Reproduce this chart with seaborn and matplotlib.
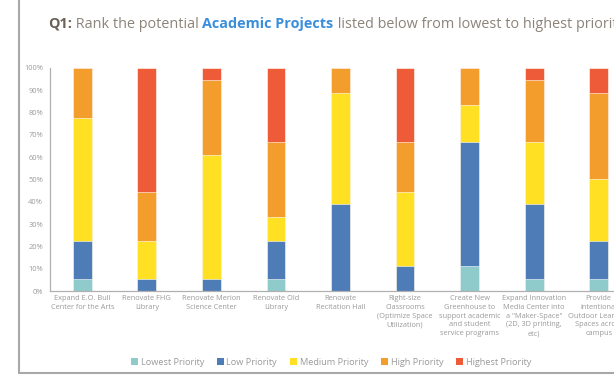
import numpy as np
import pandas as pd
import seaborn as sns
import matplotlib
matplotlib.use("Agg")
import matplotlib.pyplot as plt
from matplotlib.lines import Line2D
from matplotlib.patches import Patch

categories = [
    "Expand E.O. Bull\nCenter for the Arts",
    "Renovate FHG\nLibrary",
    "Renovate Merion\nScience Center",
    "Renovate Old\nLibrary",
    "Renovate\nRecitation Hall",
    "Right-size\nClassrooms\n(Optimize Space\nUtilization)",
    "Create New\nGreenhouse to\nsupport academic\nand student\nservice programs",
    "Expand Innovation\nMedia Center into\na \"Maker-Space\"\n(2D, 3D printing,\netc)",
    "Provide\nintentional\nOutdoor Learning\nSpaces across\ncampus",
]
series_names = ["Lowest Priority", "Low Priority", "Medium Priority", "High Priority", "Highest Priority"]
lowest = [5.56, 0.0, 0.0, 5.56, 0.0, 0.0, 11.11, 5.56, 5.56]
low = [16.67, 5.56, 5.56, 16.67, 38.89, 11.11, 55.56, 33.33, 16.67]
medium = [55.56, 16.67, 55.56, 11.11, 50.0, 33.33, 16.67, 27.78, 27.78]
high = [22.22, 22.22, 33.33, 33.33, 11.11, 22.22, 16.67, 27.78, 38.89]
highest = [0.0, 55.56, 5.56, 33.33, 0.0, 33.33, 0.0, 5.56, 11.11]
colors = ["#8ecbca", "#4e7cb6", "#ffe022", "#f29d2c", "#ee5b38"]
yticks = [0, 10, 20, 30, 40, 50, 60, 70, 80, 90, 100]
ytick_labels = ["0%", "10%", "20%", "30%", "40%", "50%", "60%", "70%", "80%", "90%", "100%"]

series = [lowest, low, medium, high, highest]
cum = np.cumsum(np.array(series), axis=0)

W, H = 614, 375
fig = plt.figure(figsize=(W / 100, H / 100), dpi=100)
sns.set_style("white")
plt.rcParams["font.family"] = ["Open Sans", "DejaVu Sans"]

ax = fig.add_axes([50 / W, 84 / H, 581 / W, 223 / H])
for i in range(len(series) - 1, -1, -1):
    df = pd.DataFrame({"cat": categories, "val": cum[i]})
    sns.barplot(data=df, x="cat", y="val", color=colors[i], width=0.29,
                saturation=1, ax=ax, edgecolor="white", linewidth=0.4)

ax.set_xlim(-0.5, len(categories) - 0.5)
ax.set_ylim(0, 100)
ax.set_yticks(yticks)
ax.set_yticklabels(ytick_labels)
ax.set_xlabel("")
ax.set_ylabel("")
tcol = "#9a9a9a"
ax.tick_params(axis="y", labelsize=5.4, colors="#a0a0a0", labelcolor=tcol, length=3, width=0.6, pad=2)
ax.tick_params(axis="x", which="major", labelsize=5.3, labelcolor=tcol, length=0, pad=3)
ax.set_xticks(np.arange(-0.5, len(categories)), minor=True)
ax.tick_params(axis="x", which="minor", length=3, width=0.8, colors="#a0a0a0")
for lab in ax.get_xticklabels():
    lab.set_linespacing(1.35)
for s in ["top", "right"]:
    ax.spines[s].set_visible(False)
for s in ["left", "bottom"]:
    ax.spines[s].set_color("#b0b0b0")
    ax.spines[s].set_linewidth(0.9)

# legend
handles = [Patch(facecolor=c, edgecolor="none") for c in colors]
leg = fig.legend(handles, series_names, loc="center", bbox_to_anchor=(331 / W, 1 - 362.5 / H),
                 ncol=5, frameon=False, fontsize=6.6, handlelength=0.75, handleheight=0.75,
                 handletextpad=0.3, columnspacing=1.4, labelcolor=tcol)

# frame lines
fig.add_artist(Line2D([19 / W, 19 / W], [1 - 373 / H, 1], transform=fig.transFigure,
                      color="#a8a8a8", lw=1.5))
fig.add_artist(Line2D([19 / W, 1], [1 - 373 / H, 1 - 373 / H], transform=fig.transFigure,
                      color="#a8a8a8", lw=1.5))

# title in pieces
pieces = [("Q1:", "bold", "#6b6157"), (" Rank the potential ", "normal", "#8c837a"),
          ("Academic Projects", "bold", "#3b8edb"),
          (" listed below from lowest to highest priority", "normal", "#8c837a")]
renderer = fig.canvas.get_renderer()
x = 48 / W
y = 1 - 28 / H
for txt, wt, c in pieces:
    t = fig.text(x, y, txt, fontsize=10.35, fontweight=wt, color=c, va="baseline", ha="left")
    bb = t.get_window_extent(renderer=renderer)
    x = bb.x1 / fig.bbox.width

fig.savefig("out.png", dpi=100)
